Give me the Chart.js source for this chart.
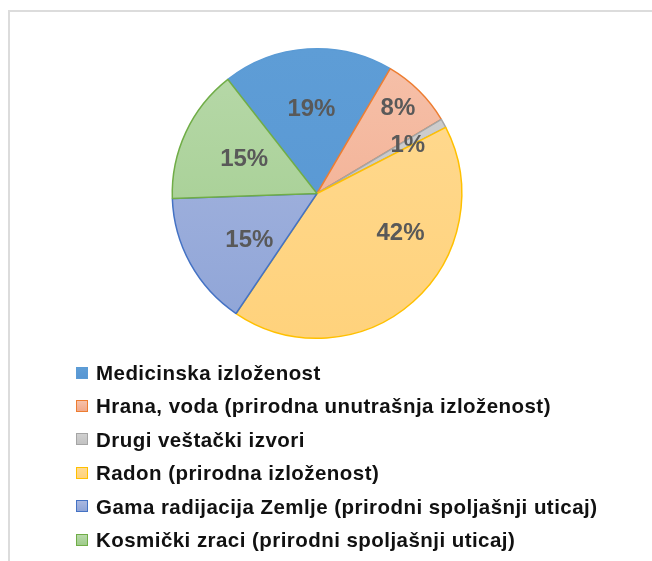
<!DOCTYPE html>
<html>
<head>
<meta charset="utf-8">
<script src="https://cdn.jsdelivr.net/npm/chart.js@4"></script>
<style>
  html, body { margin: 0; padding: 0; background: #fff; }
  #wrap { position: relative; width: 652px; height: 561px; overflow: hidden; }
  #frame { position: absolute; left: 8px; top: 10px; right: -5px; bottom: -5px;
           border-left: 2px solid #dcdcdc; border-top: 2px solid #dcdcdc; }
  #legend { position: absolute; left: 76px; top: 356px; margin: 0; padding: 0; list-style: none;
            font: bold 20.5px 'Liberation Sans', Arial, sans-serif; letter-spacing: 0.45px; color: #111; }
  #legend li { height: 33.4px; line-height: 33.4px; white-space: nowrap; display: flex; align-items: center; }
  #legend .box { display: inline-block; width: 10px; height: 10px; border: 1.5px solid; margin-right: 8px; }
</style>
</head>
<body>
<div id="wrap">
  <div id="frame"></div>
  <canvas id="pie" width="652" height="561"></canvas>
  <ul id="legend"></ul>
</div>
<script>
var categories = [
    'Medicinska izloženost',
    'Hrana, voda (prirodna unutrašnja izloženost)',
    'Drugi veštački izvori',
    'Radon (prirodna izloženost)',
    'Gama radijacija Zemlje (prirodni spoljašnji uticaj)',
    'Kosmički zraci (prirodni spoljašnji uticaj)'
];
var shares = [19, 8, 1, 42, 15, 15];

// fill gradient (top -> bottom) and outline per slice
var fillTop    = ['#5e9dd6', '#f6c1aa', '#d0d0d0', '#ffda92', '#aab8e0', '#b8d9aa'];
var fillBottom = ['#5796d3', '#f1a98a', '#c2c2c2', '#ffd27c', '#8ea4d7', '#9ecb8a'];
var outline    = ['#5b9bd5', '#ed7d31', '#a5a5a5', '#ffc000', '#4472c4', '#70ad47'];

// where each percentage sits: fraction along the slice, fraction of radius
var labelSpot = [[0.5, 0.58], [0.46, 0.81], [0.8, 0.71], [0.35, 0.64], [0.39, 0.57], [0.5, 0.555]];

function sliceFill(c) {
    var area = c.chart.chartArea;
    var i = c.dataIndex;
    if (!area) return fillTop[i];
    var g = c.chart.ctx.createLinearGradient(0, area.top, 0, area.bottom);
    g.addColorStop(0, fillTop[i]);
    g.addColorStop(1, fillBottom[i]);
    return g;
}

var percentLabels = {
    id: 'percentLabels',
    afterDatasetsDraw: function(chart) {
        var ctx = chart.ctx;
        var meta = chart.getDatasetMeta(0);
        ctx.save();
        ctx.font = 'bold 24px "Liberation Sans", Arial, sans-serif';
        ctx.fillStyle = '#595959';
        ctx.textAlign = 'center';
        ctx.textBaseline = 'middle';
        meta.data.forEach(function(arc, i) {
            var p = arc.getProps(['x', 'y', 'startAngle', 'endAngle', 'outerRadius'], true);
            var a = p.startAngle + labelSpot[i][0] * (p.endAngle - p.startAngle);
            var r = p.outerRadius * labelSpot[i][1];
            ctx.fillText(shares[i] + '%', p.x + Math.cos(a) * r, p.y + Math.sin(a) * r);
        });
        ctx.restore();
    }
};

var ctx = document.getElementById('pie').getContext('2d');
var myChart = new Chart(ctx, {
    type: 'pie',
    data: {
        labels: categories,
        datasets: [{
            data: shares,
            backgroundColor: sliceFill,
            borderColor: outline,
            borderWidth: 1.5
        }]
    },
    options: {
        responsive: false,
        animation: false,
        rotation: -38,
        layout: { padding: { top: 48, bottom: 222, left: 102, right: 120 } },
        plugins: {
            legend: { display: false },
            tooltip: { enabled: false }
        }
    },
    plugins: [percentLabels]
});

// legend built from the same arrays
var ul = document.getElementById('legend');
categories.forEach(function(name, i) {
    var li = document.createElement('li');
    var box = document.createElement('span');
    box.className = 'box';
    box.style.borderColor = outline[i];
    box.style.background = 'linear-gradient(' + fillTop[i] + ',' + fillBottom[i] + ')';
    li.appendChild(box);
    li.appendChild(document.createTextNode(name));
    ul.appendChild(li);
});
</script>
</body>
</html>
